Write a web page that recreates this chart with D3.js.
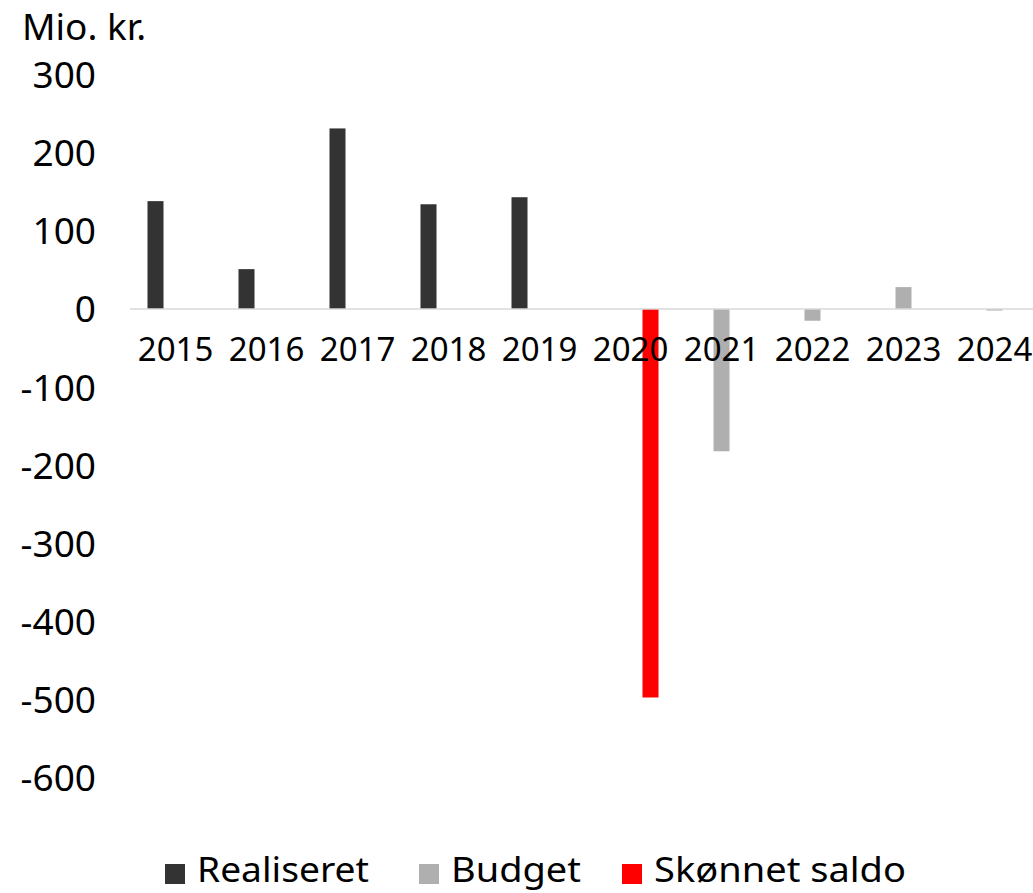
<!DOCTYPE html>
<html>
<head>
<meta charset="utf-8">
<script src="https://cdn.jsdelivr.net/npm/d3@7"></script>
<style>
  html, body { margin: 0; padding: 0; background: #fff; }
  svg { display: block; font-family: "Noto Sans", "Liberation Sans", sans-serif; }
</style>
</head>
<body>
<svg id="chart" width="1033" height="893"></svg>
<script>
const years = ["2015","2016","2017","2018","2019","2020","2021","2022","2023","2024"];
const seriesNames = ["Realiseret", "Budget", "Skønnet saldo"];
const seriesColors = ["#333333", "#afafaf", "#ff0000"];
const realiseret = [138, 51, 231, 134, 143, null, null, null, null, null];
const budget = [null, null, null, null, null, null, -182, -15, 28, -2];
const skonnet = [null, null, null, null, null, -497, null, null, null, null];
const yTicks = [300, 200, 100, 0, -100, -200, -300, -400, -500, -600];
const yTitle = "Mio. kr.";

const seriesValues = [realiseret, budget, skonnet];

const svg = d3.select("#chart");
const W = 1033, H = 893;

const x0 = d3.scaleBand().domain(years).range([130, 1040]).paddingInner(0).paddingOuter(0);
const x1 = d3.scaleBand().domain(seriesNames).range([0, x0.bandwidth()])
  .paddingInner(0.2).paddingOuter(0.875).align(0.5);
const y = d3.scaleLinear().domain([-600, 300]).range([778, 74.5]);

// bars
seriesNames.forEach((s, si) => {
  const data = years.map((yr, i) => ({ yr, v: seriesValues[si][i] })).filter(d => d.v !== null);
  svg.append("g").selectAll("rect").data(data).enter().append("rect")
    .attr("x", d => x0(d.yr) + x1(s))
    .attr("width", x1.bandwidth())
    .attr("y", d => y(Math.max(0, d.v)))
    .attr("height", d => Math.abs(y(d.v) - y(0)))
    .attr("fill", seriesColors[si]);
});

// zero line
svg.append("line")
  .attr("x1", 130).attr("x2", W)
  .attr("y1", y(0)).attr("y2", y(0))
  .attr("stroke", "#d9d9d9").attr("stroke-width", 1.5);

// y axis labels
const yAxis = d3.axisLeft(y).tickValues(yTicks).tickSize(0).tickPadding(0).tickFormat(d => String(d));
const gy = svg.append("g").attr("transform", "translate(96,0)").call(yAxis);
gy.select(".domain").remove();
gy.selectAll("text")
  .attr("font-size", 37).attr("fill", "#000")
  .attr("font-family", "Noto Sans, Liberation Sans, sans-serif")
  .attr("dy", "0.35em").attr("x", 0);

// x axis labels
const xAxis = d3.axisBottom(x0).tickSize(0).tickPadding(0);
const gx = svg.append("g").attr("transform", `translate(0,${y(0)})`).call(xAxis);
gx.select(".domain").remove();
gx.selectAll("text")
  .attr("font-size", 33).attr("fill", "#000")
  .attr("font-family", "Noto Sans, Liberation Sans, sans-serif")
  .attr("y", 52).attr("dy", 0);

// title
svg.append("text").attr("x", 22).attr("y", 40)
  .attr("font-size", 37).attr("fill", "#000").text(yTitle);

// legend
const legendX = [165, 419, 622];
const legendTextW = [172, 130, 252];
const lg = svg.append("g");
seriesNames.forEach((s, i) => {
  const g = lg.append("g").attr("transform", `translate(${legendX[i]},0)`);
  g.append("rect").attr("x", 0).attr("y", 864).attr("width", 20).attr("height", 20).attr("fill", seriesColors[i]);
  g.append("text").attr("x", 32).attr("y", 882).attr("font-size", 34).attr("fill", "#000")
    .attr("textLength", legendTextW[i]).attr("lengthAdjust", "spacingAndGlyphs").text(s);
});
</script>
</body>
</html>
